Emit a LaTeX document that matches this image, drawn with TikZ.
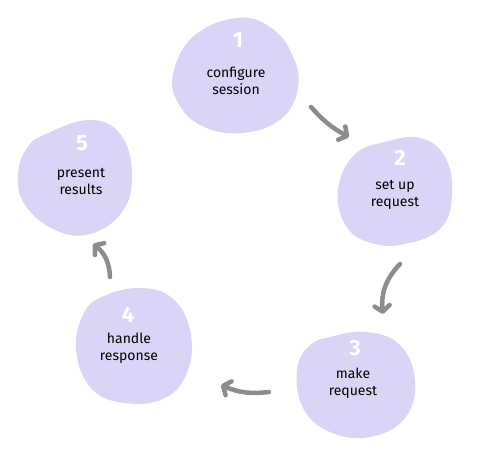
\documentclass[tikz,border=0pt]{standalone}
\usepackage{fontspec}
\setmainfont{Fira Sans}
\usetikzlibrary{arrows.meta}

\definecolor{blobfill}{RGB}{217,213,247}
\definecolor{arrowgray}{RGB}{140,140,140}

\tikzset{
  blob/.style={fill=blobfill, draw=none},
  stepno/.style={text=white, font=\fontsize{22}{22}\selectfont\bfseries, inner sep=0pt},
  steptext/.style={align=center, font=\fontsize{14}{17}\selectfont, inner sep=0pt},
  loop arrow/.style={draw=arrowgray, line width=4.5pt, line cap=round,
    -{Straight Barb[length=6pt,width=15pt,round]}},
}

\begin{document}
\begin{tikzpicture}[x=1pt,y=-1pt]
        \useasboundingbox (0,0) rectangle (478,457);

        %Shape: Blob 1
        \fill[blob] plot[smooth cycle, tension=0.7] coordinates {(237,18) (270,27) (292,54) (298,88) (281,119) (242,133) (202,126) (177,101) (174,70) (195,35)};
        %Shape: Blob 2
        \fill[blob] plot[smooth cycle, tension=0.7] coordinates {(385,142) (420,138) (445,157) (452,194) (441,228) (405,244) (371,243) (346,226) (338,190) (354,155)};
        %Shape: Blob 3
        \fill[blob] plot[smooth cycle, tension=0.7] coordinates {(330,337) (366,332) (400,345) (415,381) (405,418) (370,437) (330,432) (303,408) (297,370) (309,346)};
        %Shape: Blob 4
        \fill[blob] plot[smooth cycle, tension=0.7] coordinates {(104,296) (140,288) (172,298) (190,330) (188,370) (165,398) (124,403) (91,388) (76,350) (84,313)};
        %Shape: Blob 5
        \fill[blob] plot[smooth cycle, tension=0.7] coordinates {(46,134) (90,120) (121,135) (132,175) (122,212) (90,234) (55,230) (25,205) (18,175) (27,148)};

        % Text Node
        \node[stepno] (num1) at (238,40) {1};
        \node[steptext] (txt1) at (236,81) {configure\\session};
        % Text Node
        \node[stepno] (num2) at (400,158) {2};
        \node[steptext] (txt2) at (395,195) {set up\\request};
        % Text Node
        \node[stepno] (num3) at (355,348) {3};
        \node[steptext] (txt3) at (353,383) {make\\request};
        % Text Node
        \node[stepno] (num4) at (128,315) {4};
        \node[steptext] (txt4) at (129,348) {handle\\response};
        % Text Node
        \node[stepno] (num5) at (82,143) {5};
        \node[steptext] (txt5) at (81,181) {present\\results};

        %Arrow ends
        \coordinate (a1s) at (311,107);
        \coordinate (a1e) at (349,137);
        \coordinate (a2s) at (400,264);
        \coordinate (a2e) at (383,314);
        \coordinate (a3s) at (269,392);
        \coordinate (a3e) at (221,385);
        \coordinate (a4s) at (110,277);
        \coordinate (a4e) at (93,244);

        %Curve Lines
        \draw[loop arrow] (a1s) to[bend right=10] (a1e);
        \draw[loop arrow] (a2s) to[bend right=25] (a2e);
        \draw[loop arrow] (a3s) to[bend left=15] (a3e);
        \draw[loop arrow] (a4s) to[bend right=25] (a4e);
    \end{tikzpicture}
\end{document}
